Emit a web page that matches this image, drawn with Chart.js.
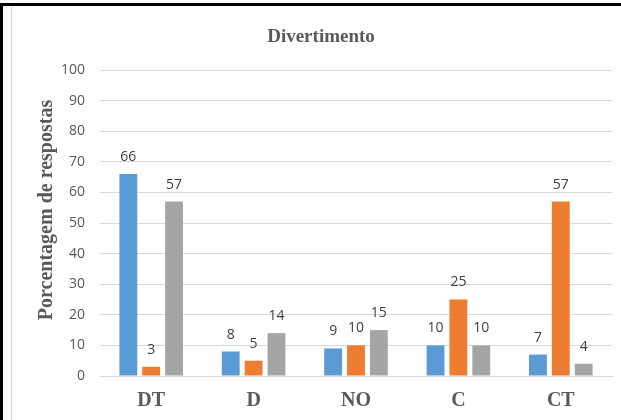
<!DOCTYPE html>
<html><head><meta charset="utf-8">
<script src="https://cdn.jsdelivr.net/npm/chart.js@4"></script>
<style>
html,body{margin:0;padding:0;background:#fff;}
#wrap{position:relative;width:621px;height:420px;overflow:hidden;}
#topb{position:absolute;left:0;top:3px;width:621px;height:3px;background:#000;}
#leftb{position:absolute;left:0;top:3px;width:3px;height:417px;background:#000;}
#inner{position:absolute;left:11px;top:6px;width:1px;height:414px;background:#d9d9d9;}
canvas{position:absolute;left:0;top:0;}
</style></head>
<body>
<div id="wrap">
<canvas id="c" width="621" height="420"></canvas>
<div id="topb"></div><div id="leftb"></div><div id="inner"></div>
</div>
<script>
const categories = ["DT", "D", "NO", "C", "CT"];
const series1 = [66, 8, 9, 10, 7];
const series2 = [3, 5, 10, 25, 57];
const series3 = [57, 14, 15, 10, 4];
const yTicks = [0, 10, 20, 30, 40, 50, 60, 70, 80, 90, 100];
const titleText = "Divertimento";
const yTitle = "Porcentagem de respostas";

const SERIF = '"Liberation Serif", "Times New Roman", serif';

const labelPlugin = {
  id: 'valLabels',
  afterDatasetsDraw(chart) {
    const ctx = chart.ctx;
    ctx.save();
    ctx.font = '14px "Open Sans", "Liberation Sans", sans-serif';
    ctx.fillStyle = '#404040';
    ctx.textAlign = 'center';
    ctx.textBaseline = 'middle';
    chart.data.datasets.forEach((ds, i) => {
      chart.getDatasetMeta(i).data.forEach((bar, j) => {
        ctx.fillText(String(ds.data[j]), bar.x, bar.y - 17);
      });
    });
    ctx.restore();
  }
};

const titlesPlugin = {
  id: 'titles',
  afterDraw(chart) {
    const ctx = chart.ctx;
    ctx.save();
    ctx.fillStyle = '#595959';
    ctx.font = 'bold 19px ' + SERIF;
    ctx.textAlign = 'center';
    ctx.textBaseline = 'alphabetic';
    ctx.fillText(titleText, 321, 42);
    ctx.translate(47, 210);
    ctx.rotate(-Math.PI / 2);
    ctx.font = 'bold 20px ' + SERIF;
    ctx.textBaseline = 'middle';
    ctx.fillText(yTitle, 0, 0);
    ctx.restore();
  }
};

new Chart(document.getElementById('c'), {
  type: 'bar',
  data: {
    labels: categories,
    datasets: [
      {data: series1, backgroundColor: '#5B9BD5'},
      {data: series2, backgroundColor: '#ED7D31'},
      {data: series3, backgroundColor: '#A5A5A5'}
    ]
  },
  options: {
    responsive: false,
    animation: false,
    devicePixelRatio: 1,
    layout: {padding: {left: 12, right: 9, top: 70, bottom: 0}},
    datasets: {bar: {categoryPercentage: 0.67, barPercentage: 0.78}},
    plugins: {
      legend: {display: false},
      tooltip: {enabled: false},
      title: {display: false}
    },
    scales: {
      x: {
        grid: {display: false, drawTicks: false},
        border: {display: true, color: '#d9d9d9'},
        ticks: {color: '#595959', padding: 13,
          font: {family: SERIF, size: 20, weight: 'bold'}},
        afterFit(s) { s.height = 44; }
      },
      y: {
        min: 0, max: 100,
        afterBuildTicks(s) { s.ticks = yTicks.map(v => ({value: v})); },
        grid: {color: '#d9d9d9', drawTicks: false},
        border: {display: false},
        ticks: {color: '#595959', padding: 15,
          font: {family: '"Open Sans", "Liberation Sans", sans-serif', size: 14}},
        afterFit(s) { s.width = 88; }
      }
    }
  },
  plugins: [labelPlugin, titlesPlugin]
});
</script>
</body></html>
